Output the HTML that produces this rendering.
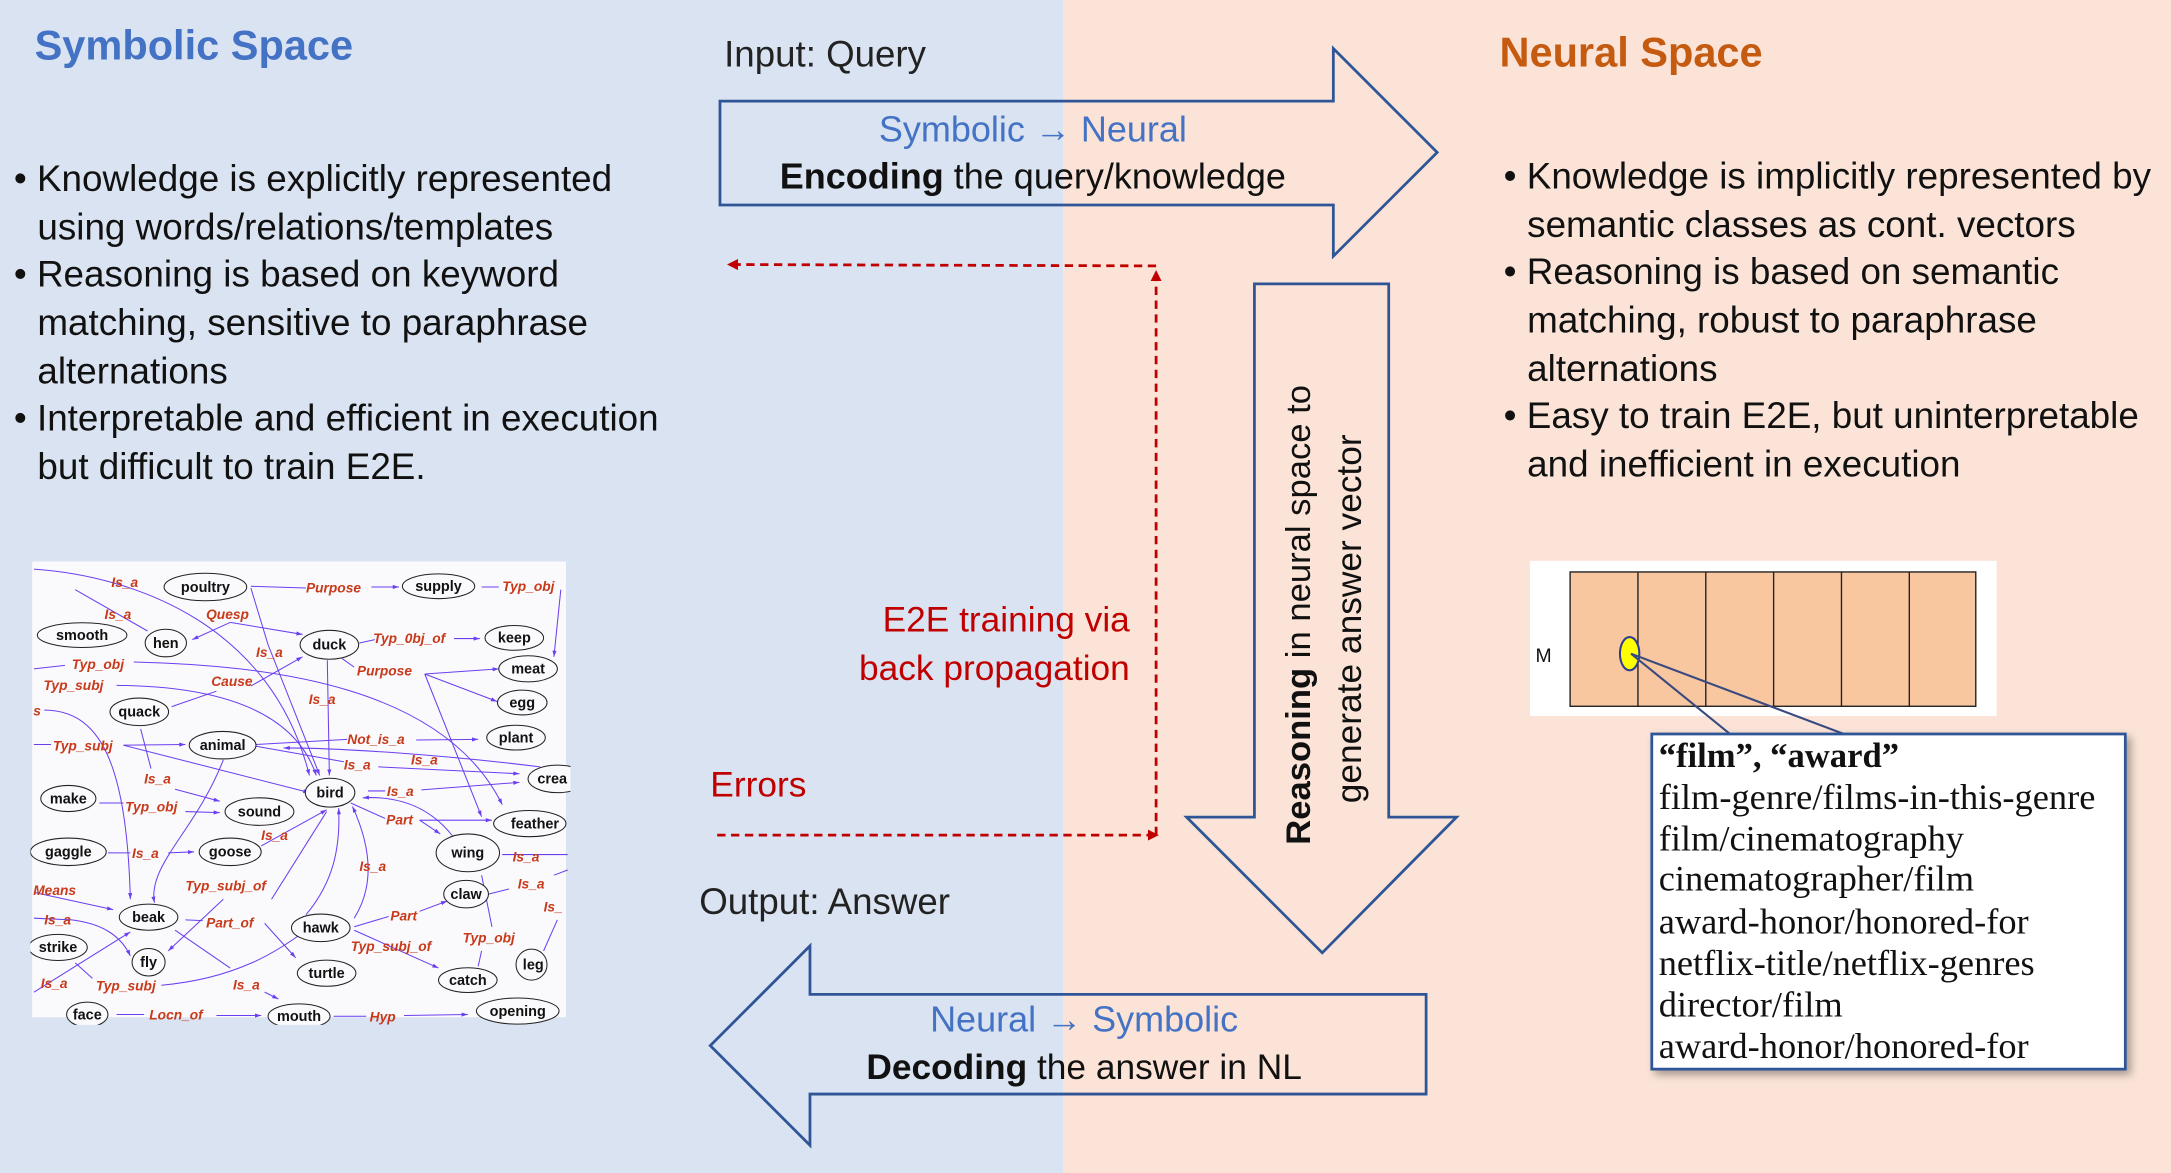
<!DOCTYPE html>
<html><head><meta charset="utf-8"><style>
html,body{margin:0;padding:0;width:2171px;height:1173px;overflow:hidden;}
svg{display:block}
</style></head><body>
<svg width="2171" height="1173" viewBox="0 0 1568 847" preserveAspectRatio="none" xmlns="http://www.w3.org/2000/svg" font-family="Liberation Sans, sans-serif">
<defs>
<marker id="ar" markerWidth="8" markerHeight="8" refX="7" refY="4" orient="auto" markerUnits="userSpaceOnUse"><path d="M0,0 L8,4 L0,8 z" fill="#c00000"/></marker>
<marker id="pa" markerWidth="20" markerHeight="20" refX="18" refY="8" orient="auto" markerUnits="userSpaceOnUse"><path d="M0,2 L18,8 L0,14 z" fill="#6b3ff0"/></marker>
<filter id="sh" x="-10%" y="-10%" width="130%" height="130%"><feDropShadow dx="3" dy="3" stdDeviation="3" flood-color="#000" flood-opacity="0.35"/></filter>
</defs>
<rect x="0" y="0" width="768" height="847" fill="#dae3f1"/>
<rect x="768" y="0" width="800" height="847" fill="#fbe4d7"/>

<text x="25" y="43" font-size="30" font-weight="bold" fill="#4472c4">Symbolic Space</text>
<text x="1083" y="48" font-size="30" font-weight="bold" fill="#c55a11">Neural Space</text>

<g font-size="26.6" fill="#111">
<text x="10" y="138">• Knowledge is explicitly represented</text>
<text x="27" y="173">using words/relations/templates</text>
<text x="10" y="207">• Reasoning is based on keyword</text>
<text x="27" y="242">matching, sensitive to paraphrase</text>
<text x="27" y="277">alternations</text>
<text x="10" y="311">• Interpretable and efficient in execution</text>
<text x="27" y="346">but difficult to train E2E.</text>

<text x="1086" y="136">• Knowledge is implicitly represented by</text>
<text x="1103" y="171">semantic classes as cont. vectors</text>
<text x="1086" y="205">• Reasoning is based on semantic</text>
<text x="1103" y="240">matching, robust to paraphrase</text>
<text x="1103" y="275">alternations</text>
<text x="1086" y="309">• Easy to train E2E, but uninterpretable</text>
<text x="1103" y="344">and inefficient in execution</text>
</g>

<text x="523" y="48" font-size="26.5" fill="#222">Input: Query</text>
<text x="505" y="660" font-size="26.5" fill="#222">Output: Answer</text>

<!-- top arrow -->
<path d="M520,73 L963,73 L963,35 L1038,110 L963,185 L963,148 L520,148 Z" fill="none" stroke="#2f5597" stroke-width="2"/>
<text x="746" y="102" font-size="26" fill="#4472c4" text-anchor="middle">Symbolic <tspan font-weight="bold">→</tspan> Neural</text>
<text x="746" y="136" font-size="26" fill="#111" text-anchor="middle"><tspan font-weight="bold">Encoding</tspan> the query/knowledge</text>

<!-- down arrow -->
<path d="M906,205 L1003,205 L1003,590 L1052,590 L955,688 L857,590 L906,590 Z" fill="none" stroke="#2f5597" stroke-width="2"/>
<g transform="translate(946,610) rotate(-90)"><text x="0" y="0" font-size="25" fill="#111"><tspan font-weight="bold">Reasoning</tspan> in neural space to</text></g>
<g transform="translate(983,580) rotate(-90)"><text x="0" y="0" font-size="25.5" fill="#111">generate answer vector</text></g>

<!-- bottom arrow -->
<path d="M1030,718 L585,718 L585,683 L513,755 L585,827 L585,790 L1030,790 Z" fill="none" stroke="#2f5597" stroke-width="2"/>
<text x="783" y="745" font-size="26" fill="#4472c4" text-anchor="middle">Neural <tspan font-weight="bold">→</tspan> Symbolic</text>
<text x="783" y="779" font-size="25.5" fill="#111" text-anchor="middle"><tspan font-weight="bold">Decoding</tspan> the answer in NL</text>

<!-- red dashed -->
<g stroke="#c00000" stroke-width="2" stroke-dasharray="6,4" fill="none">
<line x1="835" y1="192" x2="526" y2="191" marker-end="url(#ar)"/>
<line x1="835" y1="603" x2="835" y2="196" marker-end="url(#ar)"/>
<line x1="518" y1="603" x2="836" y2="603" marker-end="url(#ar)"/>
</g>
<text x="816" y="456" font-size="25.5" fill="#c00000" text-anchor="end">E2E training via</text>
<text x="816" y="491" font-size="25.5" fill="#c00000" text-anchor="end">back propagation</text>
<text x="513" y="575" font-size="25.5" fill="#c00000">Errors</text>

<!-- semantic graph -->
<svg x="22" y="401" width="390" height="339" viewBox="0 0 1568 1365" preserveAspectRatio="none">
<rect x="5" y="18" width="1550" height="1325" fill="#fafafd"/>
<g stroke="#6b3ff0" stroke-width="3" fill="none">
<path d="M640,90 L800,95"/><path d="M990,92 L1070,92" marker-end="url(#pa)"/>
<path d="M1310,92 L1360,92"/><path d="M1540,100 L1520,295" marker-end="url(#pa)"/>
<path d="M640,95 L690,260 L840,640" marker-end="url(#pa)"/>
<path d="M10,40 C300,60 700,200 810,640" marker-end="url(#pa)"/>
<path d="M130,100 L340,220"/>
<path d="M580,195 L470,245" marker-end="url(#pa)"/>
<path d="M580,195 L790,230" marker-end="url(#pa)"/>
<path d="M955,255 L1000,245"/><path d="M1230,242 L1305,242" marker-end="url(#pa)"/>
<path d="M905,300 L940,325"/><path d="M1145,345 L1360,330" marker-end="url(#pa)"/>
<path d="M1145,345 L1355,425" marker-end="url(#pa)"/>
<path d="M1145,345 L1310,760" marker-end="url(#pa)"/>
<path d="M862,305 L868,640" marker-end="url(#pa)"/>
<path d="M10,330 L100,320"/><path d="M300,310 C700,320 1200,380 1370,725" marker-end="url(#pa)"/>
<path d="M250,378 C500,380 760,430 830,640" marker-end="url(#pa)"/>
<path d="M410,440 L540,395"/><path d="M640,380 L790,295" marker-end="url(#pa)"/>
<path d="M320,505 L350,620"/><path d="M420,680 L550,715" marker-end="url(#pa)"/>
<path d="M10,550 L60,550"/><path d="M270,552 L450,550" marker-end="url(#pa)"/>
<path d="M270,552 L810,690" marker-end="url(#pa)"/>
<path d="M655,550 L920,535"/><path d="M1120,537 L1300,535" marker-end="url(#pa)"/>
<path d="M655,555 L910,600"/><path d="M1010,615 L1420,635" marker-end="url(#pa)"/>
<path d="M1480,615 C1200,580 900,560 735,560" marker-end="url(#pa)"/>
<path d="M980,685 L1030,685"/><path d="M1135,682 L1420,660" marker-end="url(#pa)"/>
<path d="M930,720 L1030,765"/><path d="M1130,770 L1340,770" marker-end="url(#pa)"/>
<path d="M1130,770 L1190,810" marker-end="url(#pa)"/>
<path d="M1225,815 C1150,720 1050,700 965,705" marker-end="url(#pa)"/>
<path d="M40,450 C200,450 280,600 290,1000" marker-end="url(#pa)"/>
<path d="M200,720 L270,720"/><path d="M450,745 L550,748" marker-end="url(#pa)"/>
<path d="M225,865 L290,865"/><path d="M400,865 L475,862" marker-end="url(#pa)"/>
<path d="M670,845 L860,740" marker-end="url(#pa)"/>
<path d="M560,595 C480,800 340,900 360,1010" marker-end="url(#pa)"/>
<path d="M1370,870 L1560,870"/>
<path d="M940,1055 C1000,960 990,850 935,730" marker-end="url(#pa)"/>
<path d="M800,1045 C880,950 900,850 895,735" marker-end="url(#pa)"/>
<path d="M940,1080 L1040,1050"/><path d="M1130,1035 L1210,1005" marker-end="url(#pa)"/>
<path d="M940,1090 L1185,1200" marker-end="url(#pa)"/>
<path d="M1330,985 L1390,970"/><path d="M1520,930 L1560,915"/>
<path d="M1310,930 L1340,1080"/><path d="M1310,1150 L1300,1195"/>
<path d="M1530,1060 L1490,1150"/>
<path d="M10,980 L240,1030" marker-end="url(#pa)"/>
<path d="M450,1060 L500,1062"/><path d="M680,1070 L770,1170" marker-end="url(#pa)"/>
<path d="M560,1000 L400,1150" marker-end="url(#pa)"/>
<path d="M860,745 L700,1000"/>
<path d="M10,1055 L120,1060 C200,1070 260,1100 290,1165" marker-end="url(#pa)"/>
<path d="M10,1270 L290,1095" marker-end="url(#pa)"/>
<path d="M130,1185 L180,1230"/>
<path d="M380,1250 C600,1230 720,1150 800,1090" />
<path d="M420,1090 L580,1200"/><path d="M680,1270 L720,1290" marker-end="url(#pa)"/>
<path d="M250,1335 L330,1335"/><path d="M540,1338 L670,1338" marker-end="url(#pa)"/>
<path d="M880,1340 L975,1340"/><path d="M1085,1338 L1270,1335" marker-end="url(#pa)"/>
</g>
<g fill="#fafafd" stroke="#222" stroke-width="3">
<ellipse cx="508" cy="92" rx="120" ry="40"/><ellipse cx="1185" cy="90" rx="105" ry="36"/>
<ellipse cx="150" cy="232" rx="130" ry="36"/><ellipse cx="393" cy="255" rx="60" ry="40"/>
<ellipse cx="868" cy="260" rx="85" ry="42"/><ellipse cx="1405" cy="240" rx="85" ry="36"/>
<ellipse cx="1445" cy="330" rx="85" ry="38"/><ellipse cx="1428" cy="428" rx="72" ry="36"/>
<ellipse cx="316" cy="455" rx="85" ry="40"/><ellipse cx="558" cy="552" rx="97" ry="40"/>
<ellipse cx="1410" cy="530" rx="85" ry="36"/><ellipse cx="1530" cy="650" rx="85" ry="40"/>
<ellipse cx="110" cy="707" rx="80" ry="38"/><ellipse cx="665" cy="745" rx="100" ry="40"/>
<ellipse cx="870" cy="690" rx="72" ry="42"/><ellipse cx="1450" cy="780" rx="105" ry="38"/>
<ellipse cx="110" cy="862" rx="110" ry="40"/><ellipse cx="580" cy="862" rx="90" ry="40"/>
<ellipse cx="1270" cy="865" rx="92" ry="55"/><ellipse cx="1265" cy="985" rx="65" ry="40"/>
<ellipse cx="343" cy="1052" rx="85" ry="38"/><ellipse cx="843" cy="1083" rx="85" ry="40"/>
<ellipse cx="80" cy="1140" rx="85" ry="38"/><ellipse cx="343" cy="1183" rx="48" ry="40"/>
<ellipse cx="860" cy="1215" rx="85" ry="38"/><ellipse cx="1270" cy="1235" rx="85" ry="36"/>
<ellipse cx="1455" cy="1190" rx="45" ry="45"/><ellipse cx="165" cy="1335" rx="60" ry="36"/>
<ellipse cx="780" cy="1340" rx="90" ry="36"/><ellipse cx="1415" cy="1325" rx="120" ry="38"/>
</g>
<g font-size="42" font-weight="bold" fill="#111" text-anchor="middle">
<text x="508" y="106">poultry</text><text x="1185" y="104">supply</text><text x="150" y="246">smooth</text>
<text x="393" y="269">hen</text><text x="868" y="274">duck</text><text x="1405" y="254">keep</text>
<text x="1445" y="344">meat</text><text x="1428" y="442">egg</text><text x="316" y="469">quack</text>
<text x="558" y="566">animal</text><text x="1410" y="544">plant</text><text x="1515" y="664">crea</text>
<text x="110" y="721">make</text><text x="665" y="759">sound</text><text x="870" y="704">bird</text>
<text x="1465" y="794">feather</text><text x="110" y="876">gaggle</text><text x="580" y="876">goose</text>
<text x="1270" y="879">wing</text><text x="1265" y="999">claw</text><text x="343" y="1066">beak</text>
<text x="843" y="1097">hawk</text><text x="80" y="1154">strike</text><text x="343" y="1197">fly</text>
<text x="860" y="1229">turtle</text><text x="1270" y="1249">catch</text><text x="1460" y="1204">leg</text>
<text x="165" y="1349">face</text><text x="780" y="1354">mouth</text><text x="1415" y="1339">opening</text>
</g>
<g font-size="40" font-weight="bold" font-style="italic" fill="#c83a1a">
<text x="235" y="92">Is_a</text><text x="215" y="185">Is_a</text><text x="510" y="185">Quesp</text>
<text x="800" y="108">Purpose</text><text x="1370" y="104">Typ_obj</text>
<text x="995" y="255">Typ_0bj_of</text><text x="655" y="295">Is_a</text>
<text x="120" y="330">Typ_obj</text><text x="38" y="392">Typ_subj</text><text x="525" y="380">Cause</text>
<text x="948" y="350">Purpose</text><text x="808" y="432">Is_a</text><text x="8" y="465">s</text>
<text x="65" y="568">Typ_subj</text><text x="920" y="548">Not_is_a</text><text x="1105" y="608">Is_a</text>
<text x="910" y="622">Is_a</text><text x="330" y="664">Is_a</text><text x="1035" y="700">Is_a</text>
<text x="275" y="745">Typ_obj</text><text x="1033" y="783">Part</text><text x="670" y="828">Is_a</text>
<text x="295" y="880">Is_a</text><text x="1400" y="890">Is_a</text><text x="955" y="918">Is_a</text>
<text x="1415" y="968">Is_a</text><text x="450" y="975">Typ_subj_of</text><text x="8" y="987">Means</text>
<text x="1490" y="1036">Is_</text><text x="40" y="1074">Is_a</text><text x="1045" y="1062">Part</text>
<text x="510" y="1082">Part_of</text><text x="1255" y="1125">Typ_obj</text>
<text x="930" y="1150">Typ_subj_of</text><text x="30" y="1258">Is_a</text>
<text x="190" y="1265">Typ_subj</text><text x="588" y="1262">Is_a</text>
<text x="345" y="1350">Locn_of</text><text x="985" y="1355">Hyp</text>
</g>
</svg>

<!-- matrix -->
<rect x="1105" y="405" width="337" height="112" fill="#ffffff"/>
<rect x="1134" y="413" width="293" height="97" fill="#f8c7a0" stroke="#222" stroke-width="1"/>
<g stroke="#222" stroke-width="1">
<line x1="1183" y1="413" x2="1183" y2="510"/><line x1="1232" y1="413" x2="1232" y2="510"/>
<line x1="1281" y1="413" x2="1281" y2="510"/><line x1="1330" y1="413" x2="1330" y2="510"/>
<line x1="1379" y1="413" x2="1379" y2="510"/>
</g>
<text x="1109" y="478" font-size="14" fill="#111">M</text>
<ellipse cx="1177" cy="472" rx="7" ry="12" fill="#ffff00" stroke="#2f3f8f" stroke-width="1.5"/>
<line x1="1178" y1="472" x2="1252" y2="532" stroke="#3a4a80" stroke-width="1.5"/>
<line x1="1178" y1="472" x2="1337" y2="532" stroke="#3a4a80" stroke-width="1.5"/>
<rect x="1193" y="530" width="342" height="242" fill="#ffffff" stroke="#2f5597" stroke-width="2" filter="url(#sh)"/>
<g font-family="Liberation Serif, serif" font-size="26.3" fill="#111">
<text x="1198" y="554" font-weight="bold" font-size="25">“film”, “award”</text>
<text x="1198" y="584">film-genre/films-in-this-genre</text>
<text x="1198" y="614">film/cinematography</text>
<text x="1198" y="643">cinematographer/film</text>
<text x="1198" y="674">award-honor/honored-for</text>
<text x="1198" y="704">netflix-title/netflix-genres</text>
<text x="1198" y="734">director/film</text>
<text x="1198" y="764">award-honor/honored-for</text>
</g>
</svg>
</body></html>
